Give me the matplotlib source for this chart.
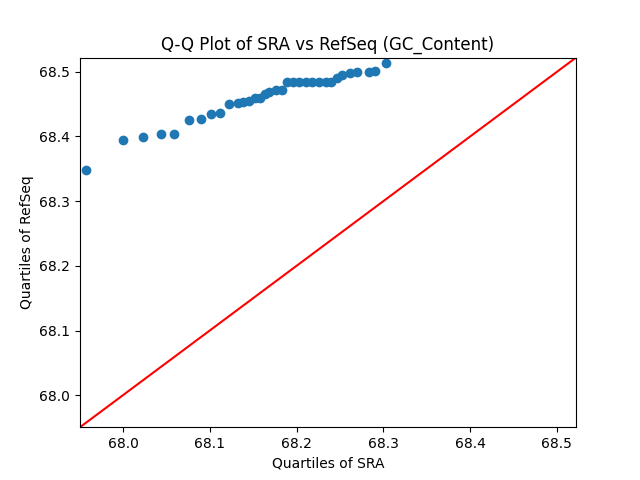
import matplotlib
matplotlib.use("Agg")
import matplotlib.pyplot as plt

# quantiles
sra_q = [67.957, 68.000, 68.023, 68.044, 68.059, 68.076, 68.090, 68.101,
         68.112, 68.122, 68.133, 68.138, 68.145, 68.152, 68.158, 68.164,
         68.168, 68.176, 68.183, 68.189, 68.196, 68.203, 68.211, 68.218,
         68.226, 68.234, 68.240, 68.247, 68.252, 68.262, 68.270, 68.283,
         68.290, 68.303]
refseq_q = [68.348, 68.395, 68.399, 68.404, 68.404, 68.426, 68.427, 68.435,
            68.437, 68.450, 68.452, 68.454, 68.455, 68.460, 68.460, 68.466,
            68.469, 68.472, 68.472, 68.485, 68.485, 68.485, 68.485, 68.485,
            68.485, 68.485, 68.485, 68.491, 68.495, 68.498, 68.500, 68.500,
            68.502, 68.514]
axis_range = [67.9505, 68.522]

fig, ax = plt.subplots(figsize=(6.4, 4.8))
ax.plot(sra_q, refseq_q, 'o', color='C0')

# 45 degree reference line spanning both axes
ax.plot(axis_range, axis_range, 'r')
ax.set_xlim(axis_range)
ax.set_ylim(axis_range)

ax.set_title("Q-Q Plot of SRA vs RefSeq (GC_Content)")
ax.set_xlabel("Quartiles of SRA")
ax.set_ylabel("Quartiles of RefSeq")

fig.savefig("out.png", dpi=100)
